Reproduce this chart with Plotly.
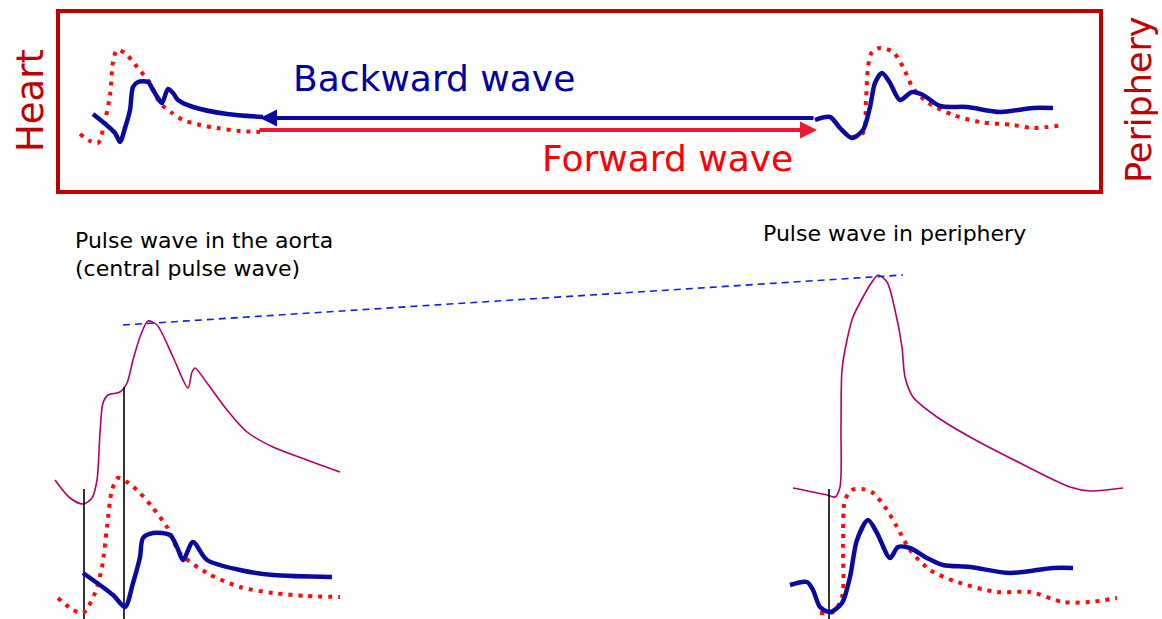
import plotly.graph_objects as go

# ---------------- data (pixel coordinates) ----------------
# Top panel: heart end
heart_fwd_x = [80, 90, 98, 104, 110, 113, 117, 125, 137, 150, 160, 172, 183, 200, 217, 240, 260]
heart_fwd_y = [134, 141, 143, 125, 95, 62, 50, 53, 67, 83, 103, 113, 120, 125, 128, 131, 132]
heart_bwd_x = [93, 115, 120, 125, 130, 133, 138, 148, 153, 158, 162, 168, 173, 178, 193, 227, 263]
heart_bwd_y = [114, 133, 142, 128, 110, 87, 82, 82, 90, 98, 103, 89, 93, 100, 107, 114, 117]

# Top panel: periphery end
peri_fwd_x = [852, 863, 866, 868, 872, 880, 893, 903, 913, 927, 953, 980, 1013, 1033, 1063]
peri_fwd_y = [137, 133, 100, 67, 52, 48, 52, 67, 88, 102, 115, 122, 125, 128, 125]
peri_bwd_x = [815, 830, 840, 852, 863, 870, 875, 882, 890, 900, 912, 923, 940, 967, 1000, 1033, 1053]
peri_bwd_y = [120, 117, 128, 138, 130, 107, 83, 73, 83, 100, 92, 95, 106, 107, 112, 108, 108]

# Arrows between ends
bwd_arrow_x = [815, 260]
bwd_arrow_y = [118, 118]
fwd_arrow_x = [258, 817]
fwd_arrow_y = [130, 130]

# Bottom left: aortic (central) pulse wave
aorta_pulse_x = [55, 70, 83, 92, 97, 100, 103, 108, 120, 127, 133, 140, 148, 157, 173, 188, 192, 195, 207, 227, 247, 273, 307, 340]
aorta_pulse_y = [480, 498, 504, 498, 480, 433, 403, 395, 392, 383, 360, 337, 321, 325, 357, 388, 372, 368, 383, 410, 432, 447, 460, 472]
aorta_fwd_x = [58, 73, 83, 95, 102, 107, 112, 118, 127, 140, 153, 167, 180, 207, 240, 273, 307, 340]
aorta_fwd_y = [598, 610, 613, 593, 567, 527, 490, 478, 482, 493, 508, 527, 553, 573, 587, 593, 596, 597]
aorta_bwd_x = [83, 113, 125, 133, 140, 143, 153, 170, 177, 183, 193, 207, 240, 273, 332]
aorta_bwd_y = [573, 595, 607, 583, 557, 538, 533, 535, 547, 560, 542, 560, 570, 575, 577]

# Bottom right: peripheral pulse wave
peri_pulse_x = [793, 827, 835, 840, 841, 842, 847, 853, 863, 872, 878, 887, 895, 902, 905, 913, 937, 970, 1020, 1070, 1090, 1123]
peri_pulse_y = [488, 495, 497, 487, 427, 370, 340, 317, 297, 282, 275, 282, 310, 347, 377, 397, 417, 437, 463, 487, 491, 488]
peri2_fwd_x = [820, 833, 842, 843, 845, 852, 862, 873, 887, 897, 910, 930, 957, 997, 1030, 1063, 1090, 1117]
peri2_fwd_y = [613, 612, 597, 543, 500, 490, 489, 493, 510, 527, 550, 570, 582, 592, 592, 602, 602, 598]
peri2_bwd_x = [790, 807, 813, 820, 830, 842, 850, 857, 868, 877, 890, 898, 910, 927, 943, 970, 1010, 1053, 1073]
peri2_bwd_y = [585, 582, 590, 607, 612, 603, 577, 540, 520, 533, 558, 547, 548, 558, 565, 567, 573, 568, 568]

# Markers
onset_lines_x = [84, 124, 829]
onset_lines_top = [489, 387, 489]
peak_line_x = [123, 903]
peak_line_y = [325, 275]

# Texts
texts_big = ["Backward wave", "Forward wave"]
side_labels = ["Heart", "Periphery"]
captions = ["Pulse wave in the aorta", "(central pulse wave)", "Pulse wave in periphery"]

# ---------------- styles ----------------
BLUE = "#0A0A9E"
RED = "#FF0A0A"
DARKRED = "#C00000"
MAGENTA = "#B2006E"
ARROWRED = "#F0182E"
dotted = dict(color=RED, width=4, dash="4px,6px")
thick_blue = dict(color=BLUE, width=4.5)

fig = go.Figure()

def add(x, y, line, shape="spline"):
    fig.add_trace(go.Scatter(x=x, y=y, mode="lines", line=dict(shape=shape, smoothing=0.8, **line),
                             hoverinfo="skip", showlegend=False))

# pulse contours (thin)
add(aorta_pulse_x, aorta_pulse_y, dict(color=MAGENTA, width=1.6))
add(peri_pulse_x, peri_pulse_y, dict(color=MAGENTA, width=1.6))

# onset lines
for xv, yt in zip(onset_lines_x, onset_lines_top):
    add([xv, xv], [yt, 619], dict(color="black", width=1.6), shape="linear")

# dashed peak line
add(peak_line_x, peak_line_y, dict(color="#1020E0", width=1.6, dash="7px,5px"), shape="linear")

# waves
add(heart_fwd_x, heart_fwd_y, dotted)
add(heart_bwd_x, heart_bwd_y, thick_blue)
add(peri_fwd_x, peri_fwd_y, dotted)
add(peri_bwd_x, peri_bwd_y, thick_blue)
add(aorta_fwd_x, aorta_fwd_y, dotted)
add(aorta_bwd_x, aorta_bwd_y, thick_blue)
add(peri2_fwd_x, peri2_fwd_y, dotted)
add(peri2_bwd_x, peri2_bwd_y, thick_blue)

# arrows
fig.add_annotation(x=bwd_arrow_x[1], y=bwd_arrow_y[1], ax=bwd_arrow_x[0], ay=bwd_arrow_y[0],
                   xref="x", yref="y", axref="x", ayref="y", text="", showarrow=True,
                   arrowhead=2, arrowsize=0.85, arrowwidth=4, arrowcolor=BLUE)
fig.add_annotation(x=fwd_arrow_x[1], y=fwd_arrow_y[1], ax=fwd_arrow_x[0], ay=fwd_arrow_y[0],
                   xref="x", yref="y", axref="x", ayref="y", text="", showarrow=True,
                   arrowhead=2, arrowsize=0.85, arrowwidth=4, arrowcolor=ARROWRED)

# box
fig.add_shape(type="rect", x0=58, y0=11, x1=1101, y1=192, xref="x", yref="y",
              line=dict(color=DARKRED, width=4), fillcolor="rgba(0,0,0,0)")

FONT = "DejaVu Sans"
fig.add_annotation(x=434, y=78, text=texts_big[0], showarrow=False, xref="x", yref="y",
                   font=dict(family=FONT, size=36, color="#0000A0"))
fig.add_annotation(x=667, y=158, text=texts_big[1], showarrow=False, xref="x", yref="y",
                   font=dict(family=FONT, size=36, color="#FF0000"))
fig.add_annotation(x=30, y=101, text=side_labels[0], showarrow=False, textangle=-90, xref="x", yref="y",
                   font=dict(family=FONT, size=37, color=DARKRED))
fig.add_annotation(x=1139, y=100, text=side_labels[1], showarrow=False, textangle=-90, xref="x", yref="y",
                   font=dict(family=FONT, size=35, color=DARKRED))
fig.add_annotation(x=73, y=240, text=captions[0], showarrow=False, xanchor="left",
                   xref="x", yref="y", font=dict(family=FONT, size=22, color="black"))
fig.add_annotation(x=73, y=268, text=captions[1], showarrow=False, xanchor="left",
                   xref="x", yref="y", font=dict(family=FONT, size=22, color="black"))
fig.add_annotation(x=761, y=233, text=captions[2], showarrow=False, xanchor="left",
                   xref="x", yref="y", font=dict(family=FONT, size=22, color="black"))

fig.update_layout(width=1162, height=619, margin=dict(l=0, r=0, t=0, b=0),
                  paper_bgcolor="white", plot_bgcolor="white",
                  xaxis=dict(range=[0, 1162], visible=False, fixedrange=True),
                  yaxis=dict(range=[619, 0], visible=False, fixedrange=True))

fig.write_html("out.html", config={"displayModeBar": False},
               post_script="document.body.style.margin='0';document.body.style.overflow='hidden';")
